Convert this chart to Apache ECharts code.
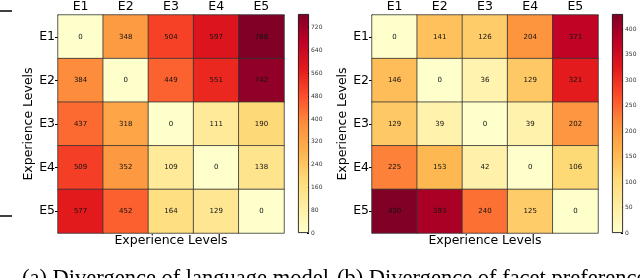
<!DOCTYPE html>
<html><head><meta charset="utf-8">
<script src="https://cdn.jsdelivr.net/npm/echarts@6/dist/echarts.min.js"></script>
<style>html,body{margin:0;padding:0;background:#fff}#c{width:640px;height:278px}</style>
</head><body><div id="c"></div>
<script>
const levels = ['E1','E2','E3','E4','E5'];
const langDiv = [
  [0, 348, 504, 597, 768],
  [384, 0, 449, 551, 742],
  [437, 318, 0, 111, 190],
  [509, 352, 109, 0, 138],
  [577, 452, 164, 129, 0]
];
const facetDiv = [
  [0, 141, 126, 204, 371],
  [146, 0, 36, 129, 321],
  [129, 39, 0, 39, 202],
  [225, 153, 42, 0, 106],
  [430, 393, 240, 125, 0]
];
const langMax = 768, langTick = 80;
const facetMax = 430, facetTick = 50;
const axisTitle = 'Experience Levels';
const captionA = '(a) Divergence of language model';
const captionB = '(b) Divergence of facet preference';
const ylorrd = ['#ffffcc','#ffeda0','#fed976','#feb24c','#fd8d3c','#fc4e2a','#e31a1c','#bd0026','#800026'];

function toData(m){const d=[];m.forEach((row,i)=>row.forEach((v,j)=>d.push([j,i,v])));return d;}
const grad = {type:'linear',x:0,y:1,x2:0,y2:0,colorStops:ylorrd.map((c,i)=>({offset:i/(ylorrd.length-1),color:c}))};
const F='DejaVu Sans';
const grids=[
  {left:58,top:14,width:226,height:219},
  {left:372,top:14,width:226,height:219},
  {left:298,top:14,width:11,height:219},
  {left:612,top:14,width:11,height:219}
];
function hx(gi){return {type:'category',gridIndex:gi,data:levels,position:'top',
  axisLine:{show:true,lineStyle:{color:'#000'}},axisTick:{show:false},
  axisLabel:{fontFamily:F,fontSize:12.5,color:'#000',margin:2},splitArea:{show:false}};}
function hy(gi,name){return {type:'category',gridIndex:gi,data:levels,inverse:true,
  axisLine:{show:true,lineStyle:{color:'#000'}},axisTick:{show:true,alignWithLabel:true,length:3,lineStyle:{color:'#000'}},
  axisLabel:{fontFamily:F,fontSize:12.5,color:'#000',margin:3},
  name:name,nameLocation:'middle',nameRotate:90,nameGap:18,nameTextStyle:{fontFamily:F,fontSize:12.5,color:'#000'}};}
function cx(gi){return {type:'category',gridIndex:gi,data:['c'],show:false};}
function cy(gi,max,iv){return {type:'value',gridIndex:gi,min:0,max:max,interval:iv,position:'right',
  axisLine:{show:false},axisTick:{show:true,inside:true,length:2,lineStyle:{color:'#000'}},splitLine:{show:false},
  axisLabel:{fontFamily:F,fontSize:6,color:'#333',margin:2,showMaxLabel:false}};}
function heat(gi,m){return {type:'heatmap',xAxisIndex:gi,yAxisIndex:gi,data:toData(m),
  itemStyle:{borderColor:'#333',borderWidth:0.8},
  label:{show:true,fontFamily:F,fontSize:7,color:'#111',textBorderWidth:0,textShadowBlur:0}};}
function cbar(gi,max){return {type:'bar',xAxisIndex:gi,yAxisIndex:gi,data:[max],barWidth:'100%',silent:true,
  itemStyle:{color:grad,borderColor:'#000',borderWidth:0.8}};}

const chart=echarts.init(document.getElementById('c'),null,{renderer:'canvas'});
chart.setOption({
  animation:false,
  grid:grids,
  xAxis:[hx(0),hx(1),cx(2),cx(3)],
  yAxis:[hy(0,axisTitle),hy(1,axisTitle),cy(2,langMax,langTick),cy(3,facetMax,facetTick)],
  visualMap:[
    {show:false,seriesIndex:0,min:0,max:langMax,inRange:{color:ylorrd}},
    {show:false,seriesIndex:1,min:0,max:facetMax,inRange:{color:ylorrd}}
  ],
  series:[heat(0,langDiv),heat(1,facetDiv),cbar(2,langMax),cbar(3,facetMax)],
  graphic:[
    {type:'text',x:171,y:241,style:{text:axisTitle,font:'12.5px "DejaVu Sans"',fill:'#000',align:'center',verticalAlign:'middle'}},
    {type:'text',x:485,y:241,style:{text:axisTitle,font:'12.5px "DejaVu Sans"',fill:'#000',align:'center',verticalAlign:'middle'}},
    {type:'text',x:22,y:268,style:{text:captionA,font:'22.5px "Liberation Serif"',fill:'#000'}},
    {type:'text',x:337,y:268,style:{text:captionB,font:'22.5px "Liberation Serif"',fill:'#000'}},
    {type:'line',shape:{x1:0,y1:11,x2:12,y2:11},style:{stroke:'#000',lineWidth:1.5}},
    {type:'line',shape:{x1:0,y1:216,x2:12,y2:216},style:{stroke:'#000',lineWidth:1.5}}
  ]
});
</script></body></html>
